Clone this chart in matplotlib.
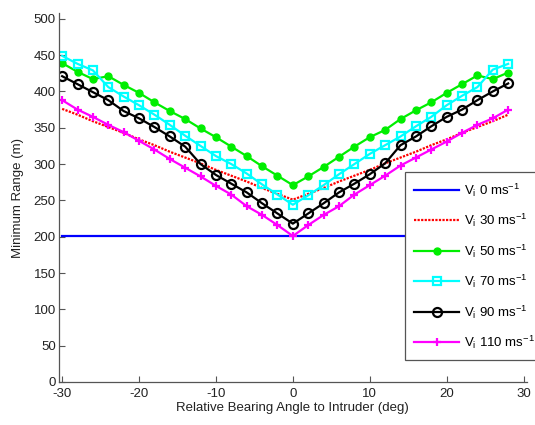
import matplotlib
matplotlib.use("Agg")
import matplotlib.pyplot as plt
import numpy as np

plt.rcParams['font.family'] = ['Liberation Sans', 'DejaVu Sans']
plt.rcParams['mathtext.fontset'] = 'custom'
plt.rcParams['mathtext.rm'] = 'Liberation Sans'
plt.rcParams['mathtext.it'] = 'Liberation Sans'
plt.rcParams['axes.unicode_minus'] = False

angles = list(range(-30, 30, 2))

v0 = [201] * 30
v30 = [376, 368, 359, 351, 343, 334, 326, 317, 309, 301, 292, 284, 276, 267, 259,
       251, 259, 267, 276, 284, 292, 301, 309, 317, 326, 334, 343, 351, 359, 368]
v50 = [439, 427, 417, 421, 409, 398, 385, 373, 362, 349, 337, 324, 311, 297, 284,
       271, 283, 296, 310, 324, 337, 347, 362, 374, 385, 398, 410, 422, 417, 426]
v70 = [449, 438, 429, 406, 393, 381, 368, 354, 339, 325, 311, 300, 287, 272, 258,
       244, 257, 271, 286, 300, 314, 326, 338, 352, 365, 381, 394, 406, 430, 438]
v90 = [421, 410, 399, 388, 373, 363, 351, 338, 324, 300, 285, 273, 261, 246, 232,
       218, 232, 246, 261, 273, 286, 301, 326, 338, 352, 365, 375, 388, 400, 411]
v110 = [388, 375, 365, 354, 344, 332, 320, 307, 295, 283, 270, 258, 242, 230, 216,
        201, 216, 230, 242, 258, 271, 284, 298, 309, 320, 331, 343, 354, 363, 375]

labels = [r'V$_\mathregular{i}$ 0 ms$^\mathregular{-1}$',
          r'V$_\mathregular{i}$ 30 ms$^\mathregular{-1}$',
          r'V$_\mathregular{i}$ 50 ms$^\mathregular{-1}$',
          r'V$_\mathregular{i}$ 70 ms$^\mathregular{-1}$',
          r'V$_\mathregular{i}$ 90 ms$^\mathregular{-1}$',
          r'V$_\mathregular{i}$ 110 ms$^\mathregular{-1}$']

W, H = 535, 425
fig = plt.figure(figsize=(W / 100, H / 100), dpi=100)
ax = fig.add_axes([58.7 / W, 1 - 382 / H, (527 - 58.7) / W, (382 - 13) / H])

lw = 1.6
ax.plot(angles, v0, color='#0000ff', lw=lw, label=labels[0])
ax.plot(angles, v30, color='#ff0000', lw=lw, ls=(0, (1, 0.6)), label=labels[1])
ax.plot(angles, v50, color='#00ee00', lw=lw, marker='o', ms=5,
        mfc='#00ee00', mec='#00ee00', label=labels[2])
ax.plot(angles, v70, color='#00ffff', lw=lw, marker='s', ms=5.5,
        mfc='none', mec='#00ffff', mew=1.6, label=labels[3])
ax.plot(angles, v90, color='#000000', lw=lw, marker='o', ms=6.5,
        mfc='none', mec='#000000', mew=1.6, label=labels[4])
ax.plot(angles, v110, color='#ff00ff', lw=lw, marker='+', ms=6,
        mew=1.6, label=labels[5])

ax.set_xlim(-30.45, 30.45)
ax.set_ylim(0, 508)
ax.set_xticks([-30, -20, -10, 0, 10, 20, 30])
ax.set_yticks(range(0, 501, 50))
for s in ['top', 'right']:
    ax.spines[s].set_visible(False)
for s in ['left', 'bottom']:
    ax.spines[s].set_color('#555555')
    ax.spines[s].set_linewidth(0.9)
ax.tick_params(direction='in', length=4, width=0.8, color='#555555',
               labelsize=9.5, labelcolor='#222222', pad=2)
ax.tick_params(axis='x', pad=4)
ax.set_xlabel('Relative Bearing Angle to Intruder (deg)', fontsize=9.5,
              color='#222222', labelpad=2)
ax.set_ylabel('Minimum Range (m)', fontsize=9.5, color='#222222', labelpad=7)

leg = fig.legend(loc='upper left', bbox_to_anchor=(405 / W, 1 - 172 / H),
                 fontsize=9.5, frameon=True, fancybox=False, framealpha=1,
                 edgecolor='#555555', handlelength=3.4, handletextpad=0.4,
                 labelspacing=1.0, borderpad=0.7, borderaxespad=0)
leg.get_frame().set_linewidth(0.9)

fig.savefig('out.png', dpi=100)
